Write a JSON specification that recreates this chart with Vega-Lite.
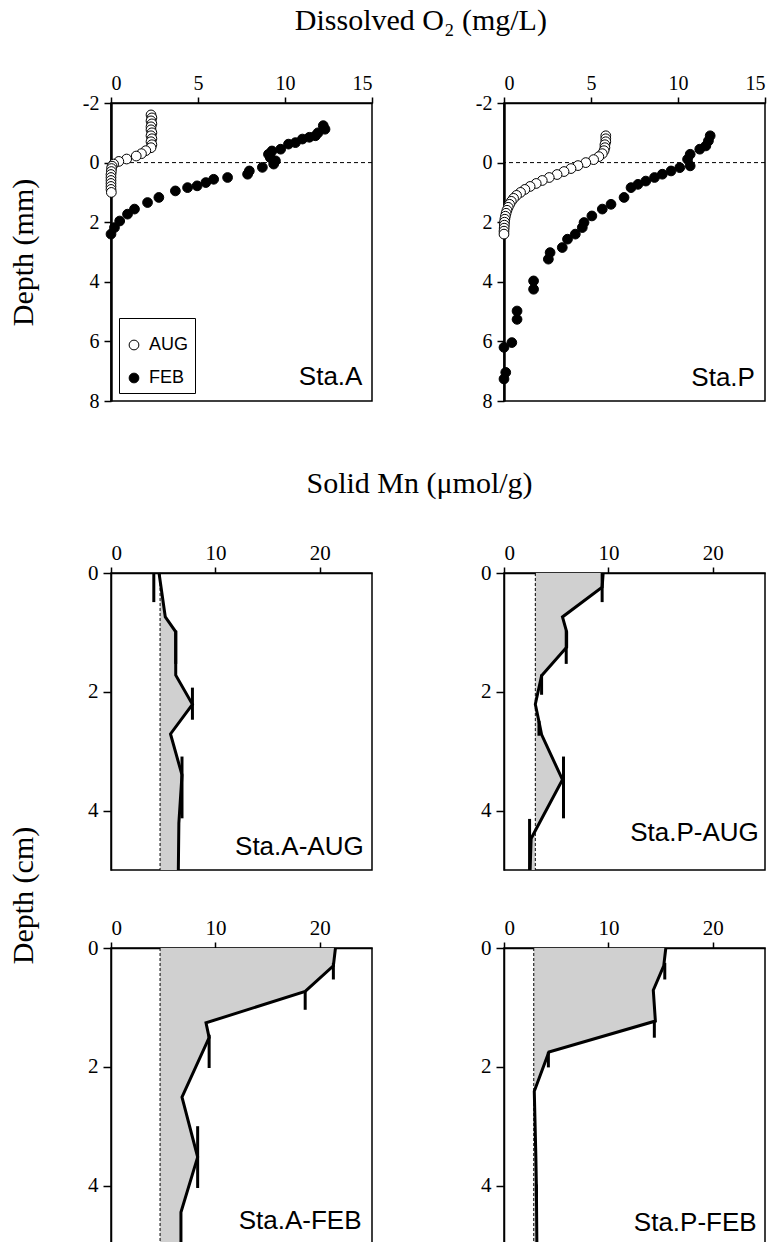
{
"$schema": "https://vega.github.io/schema/vega-lite/v6.json",
"background": "white",
"padding": {"left": 7, "top": 6, "right": 5, "bottom": 0},
"spacing": 57,
"config": {
  "view": {"stroke": "black", "strokeWidth": 1.5},
  "axis": {"grid": false, "domainColor": "black", "tickColor": "black", "labelColor": "black", "labelFont": "Liberation Serif", "titleFont": "Liberation Serif", "titleFontSize": 30, "titleFontWeight": "normal", "titleColor": "black", "domainWidth": 1.5, "tickWidth": 1.5},
  "title": {"font": "Liberation Serif", "fontSize": 30, "fontWeight": "normal", "color": "black", "anchor": "middle"}
},
"datasets": {
  "o2": [
    {"station":"A","month":"AUG","depth":-1.6,"o2":2.3},{"station":"A","month":"AUG","depth":-1.5,"o2":2.35},{"station":"A","month":"AUG","depth":-1.4,"o2":2.3},{"station":"A","month":"AUG","depth":-1.3,"o2":2.35},{"station":"A","month":"AUG","depth":-1.2,"o2":2.3},{"station":"A","month":"AUG","depth":-1.1,"o2":2.3},{"station":"A","month":"AUG","depth":-1.0,"o2":2.35},{"station":"A","month":"AUG","depth":-0.9,"o2":2.3},{"station":"A","month":"AUG","depth":-0.8,"o2":2.35},{"station":"A","month":"AUG","depth":-0.7,"o2":2.3},{"station":"A","month":"AUG","depth":-0.6,"o2":2.35},{"station":"A","month":"AUG","depth":-0.5,"o2":2.3},{"station":"A","month":"AUG","depth":-0.4,"o2":2.0},{"station":"A","month":"AUG","depth":-0.3,"o2":1.75},{"station":"A","month":"AUG","depth":-0.22,"o2":1.45},{"station":"A","month":"AUG","depth":-0.12,"o2":0.9},{"station":"A","month":"AUG","depth":-0.04,"o2":0.45},{"station":"A","month":"AUG","depth":0.05,"o2":0.15},{"station":"A","month":"AUG","depth":0.12,"o2":0.06},{"station":"A","month":"AUG","depth":0.2,"o2":0.03},{"station":"A","month":"AUG","depth":0.3,"o2":0.02},{"station":"A","month":"AUG","depth":0.4,"o2":0.0},{"station":"A","month":"AUG","depth":0.5,"o2":0.0},{"station":"A","month":"AUG","depth":0.6,"o2":0.0},{"station":"A","month":"AUG","depth":0.7,"o2":0.0},{"station":"A","month":"AUG","depth":0.8,"o2":0.0},{"station":"A","month":"AUG","depth":0.9,"o2":0.0},{"station":"A","month":"AUG","depth":1.0,"o2":0.02},
    {"station":"A","month":"FEB","depth":-1.24,"o2":12.2},{"station":"A","month":"FEB","depth":-1.12,"o2":12.3},{"station":"A","month":"FEB","depth":-1.0,"o2":11.9},{"station":"A","month":"FEB","depth":-0.9,"o2":11.75},{"station":"A","month":"FEB","depth":-0.85,"o2":11.4},{"station":"A","month":"FEB","depth":-0.79,"o2":11.0},{"station":"A","month":"FEB","depth":-0.67,"o2":10.6},{"station":"A","month":"FEB","depth":-0.62,"o2":10.2},{"station":"A","month":"FEB","depth":-0.45,"o2":9.75},{"station":"A","month":"FEB","depth":-0.39,"o2":9.25},{"station":"A","month":"FEB","depth":-0.28,"o2":9.05},{"station":"A","month":"FEB","depth":-0.17,"o2":9.15},{"station":"A","month":"FEB","depth":-0.06,"o2":9.45},{"station":"A","month":"FEB","depth":0.05,"o2":9.35},{"station":"A","month":"FEB","depth":0.16,"o2":8.7},{"station":"A","month":"FEB","depth":0.28,"o2":7.95},{"station":"A","month":"FEB","depth":0.39,"o2":7.85},{"station":"A","month":"FEB","depth":0.5,"o2":6.7},{"station":"A","month":"FEB","depth":0.56,"o2":5.9},{"station":"A","month":"FEB","depth":0.67,"o2":5.45},{"station":"A","month":"FEB","depth":0.78,"o2":4.95},{"station":"A","month":"FEB","depth":0.84,"o2":4.4},{"station":"A","month":"FEB","depth":0.95,"o2":3.7},{"station":"A","month":"FEB","depth":1.17,"o2":2.75},{"station":"A","month":"FEB","depth":1.34,"o2":2.1},{"station":"A","month":"FEB","depth":1.56,"o2":1.35},{"station":"A","month":"FEB","depth":1.73,"o2":0.95},{"station":"A","month":"FEB","depth":1.96,"o2":0.5},{"station":"A","month":"FEB","depth":2.18,"o2":0.2},{"station":"A","month":"FEB","depth":2.4,"o2":0.0},
    {"station":"P","month":"AUG","depth":-0.9,"o2":5.85},{"station":"P","month":"AUG","depth":-0.8,"o2":5.85},{"station":"P","month":"AUG","depth":-0.7,"o2":5.85},{"station":"P","month":"AUG","depth":-0.6,"o2":5.8},{"station":"P","month":"AUG","depth":-0.5,"o2":5.8},{"station":"P","month":"AUG","depth":-0.4,"o2":5.75},{"station":"P","month":"AUG","depth":-0.3,"o2":5.65},{"station":"P","month":"AUG","depth":-0.2,"o2":5.45},{"station":"P","month":"AUG","depth":-0.1,"o2":5.15},{"station":"P","month":"AUG","depth":0.0,"o2":4.7},{"station":"P","month":"AUG","depth":0.1,"o2":4.25},{"station":"P","month":"AUG","depth":0.2,"o2":3.85},{"station":"P","month":"AUG","depth":0.3,"o2":3.45},{"station":"P","month":"AUG","depth":0.4,"o2":3.05},{"station":"P","month":"AUG","depth":0.5,"o2":2.6},{"station":"P","month":"AUG","depth":0.6,"o2":2.2},{"station":"P","month":"AUG","depth":0.7,"o2":1.85},{"station":"P","month":"AUG","depth":0.8,"o2":1.5},{"station":"P","month":"AUG","depth":0.9,"o2":1.2},{"station":"P","month":"AUG","depth":1.0,"o2":0.95},{"station":"P","month":"AUG","depth":1.1,"o2":0.72},{"station":"P","month":"AUG","depth":1.2,"o2":0.55},{"station":"P","month":"AUG","depth":1.3,"o2":0.42},{"station":"P","month":"AUG","depth":1.4,"o2":0.32},{"station":"P","month":"AUG","depth":1.5,"o2":0.24},{"station":"P","month":"AUG","depth":1.6,"o2":0.17},{"station":"P","month":"AUG","depth":1.7,"o2":0.12},{"station":"P","month":"AUG","depth":1.8,"o2":0.08},{"station":"P","month":"AUG","depth":1.9,"o2":0.05},{"station":"P","month":"AUG","depth":2.0,"o2":0.03},{"station":"P","month":"AUG","depth":2.1,"o2":0.02},{"station":"P","month":"AUG","depth":2.2,"o2":0.01},{"station":"P","month":"AUG","depth":2.3,"o2":0.0},{"station":"P","month":"AUG","depth":2.4,"o2":0.0},
    {"station":"P","month":"FEB","depth":-0.9,"o2":11.85},{"station":"P","month":"FEB","depth":-0.73,"o2":11.75},{"station":"P","month":"FEB","depth":-0.56,"o2":11.6},{"station":"P","month":"FEB","depth":-0.45,"o2":11.25},{"station":"P","month":"FEB","depth":-0.28,"o2":10.7},{"station":"P","month":"FEB","depth":-0.11,"o2":10.55},{"station":"P","month":"FEB","depth":0.11,"o2":10.7},{"station":"P","month":"FEB","depth":0.17,"o2":10.1},{"station":"P","month":"FEB","depth":0.28,"o2":9.6},{"station":"P","month":"FEB","depth":0.39,"o2":9.1},{"station":"P","month":"FEB","depth":0.5,"o2":8.65},{"station":"P","month":"FEB","depth":0.62,"o2":8.15},{"station":"P","month":"FEB","depth":0.73,"o2":7.7},{"station":"P","month":"FEB","depth":0.84,"o2":7.3},{"station":"P","month":"FEB","depth":1.17,"o2":6.9},{"station":"P","month":"FEB","depth":1.4,"o2":6.15},{"station":"P","month":"FEB","depth":1.56,"o2":5.65},{"station":"P","month":"FEB","depth":1.79,"o2":5.05},{"station":"P","month":"FEB","depth":2.01,"o2":4.6},{"station":"P","month":"FEB","depth":2.18,"o2":4.5},{"station":"P","month":"FEB","depth":2.4,"o2":4.1},{"station":"P","month":"FEB","depth":2.57,"o2":3.65},{"station":"P","month":"FEB","depth":2.85,"o2":3.35},{"station":"P","month":"FEB","depth":3.02,"o2":2.65},{"station":"P","month":"FEB","depth":3.24,"o2":2.55},{"station":"P","month":"FEB","depth":3.97,"o2":1.7},{"station":"P","month":"FEB","depth":4.25,"o2":1.7},{"station":"P","month":"FEB","depth":4.98,"o2":0.75},{"station":"P","month":"FEB","depth":5.26,"o2":0.75},{"station":"P","month":"FEB","depth":6.04,"o2":0.45},{"station":"P","month":"FEB","depth":6.2,"o2":0.0},{"station":"P","month":"FEB","depth":7.04,"o2":0.1},{"station":"P","month":"FEB","depth":7.26,"o2":0.0}
  ],
  "mn": [
    {"panel":"A-AUG","depth":0,"mn":4.6},{"panel":"A-AUG","depth":0.74,"mn":5.2},{"panel":"A-AUG","depth":0.99,"mn":6.2},{"panel":"A-AUG","depth":1.72,"mn":6.2},{"panel":"A-AUG","depth":2.21,"mn":7.8},{"panel":"A-AUG","depth":2.71,"mn":5.7},{"panel":"A-AUG","depth":3.4,"mn":6.8},{"panel":"A-AUG","depth":4.21,"mn":6.5},{"panel":"A-AUG","depth":5.0,"mn":6.45},
    {"panel":"P-AUG","depth":0,"mn":9.5},{"panel":"P-AUG","depth":0.24,"mn":9.4},{"panel":"P-AUG","depth":0.74,"mn":5.6},{"panel":"P-AUG","depth":0.99,"mn":6.0},{"panel":"P-AUG","depth":1.25,"mn":6.0},{"panel":"P-AUG","depth":1.73,"mn":3.6},{"panel":"P-AUG","depth":2.21,"mn":3.0},{"panel":"P-AUG","depth":2.5,"mn":3.35},{"panel":"P-AUG","depth":2.72,"mn":3.6},{"panel":"P-AUG","depth":3.48,"mn":5.6},{"panel":"P-AUG","depth":4.47,"mn":2.6},{"panel":"P-AUG","depth":5.0,"mn":2.5},
    {"panel":"A-FEB","depth":0,"mn":21.5},{"panel":"A-FEB","depth":0.3,"mn":21.3},{"panel":"A-FEB","depth":0.73,"mn":18.6},{"panel":"A-FEB","depth":1.26,"mn":9.1},{"panel":"A-FEB","depth":1.51,"mn":9.4},{"panel":"A-FEB","depth":2.51,"mn":6.8},{"panel":"A-FEB","depth":3.52,"mn":8.3},{"panel":"A-FEB","depth":4.45,"mn":6.7},{"panel":"A-FEB","depth":5.0,"mn":6.7},
    {"panel":"P-FEB","depth":0,"mn":15.5},{"panel":"P-FEB","depth":0.3,"mn":15.3},{"panel":"P-FEB","depth":0.71,"mn":14.3},{"panel":"P-FEB","depth":1.23,"mn":14.5},{"panel":"P-FEB","depth":1.75,"mn":4.3},{"panel":"P-FEB","depth":2.41,"mn":2.9},{"panel":"P-FEB","depth":3.5,"mn":3.05},{"panel":"P-FEB","depth":4.0,"mn":3.1},{"panel":"P-FEB","depth":5.0,"mn":3.15}
  ],
  "bars": [
    {"panel":"A-AUG","mn":4.1,"top":0,"bottom":0.49},{"panel":"A-AUG","mn":6.2,"top":0.97,"bottom":1.53},{"panel":"A-AUG","mn":7.8,"top":1.93,"bottom":2.47},{"panel":"A-AUG","mn":6.8,"top":3.09,"bottom":4.13},
    {"panel":"P-AUG","mn":9.4,"top":0,"bottom":0.49},{"panel":"P-AUG","mn":5.96,"top":0.97,"bottom":1.53},{"panel":"P-AUG","mn":3.6,"top":1.71,"bottom":2.05},{"panel":"P-AUG","mn":3.35,"top":2.49,"bottom":2.74},{"panel":"P-AUG","mn":5.7,"top":3.09,"bottom":4.13},{"panel":"P-AUG","mn":2.45,"top":4.14,"bottom":5.0},
    {"panel":"A-FEB","mn":21.3,"top":0.25,"bottom":0.53},{"panel":"A-FEB","mn":18.6,"top":0.73,"bottom":1.04},{"panel":"A-FEB","mn":9.4,"top":1.46,"bottom":2.02},{"panel":"A-FEB","mn":8.3,"top":3.0,"bottom":4.04},
    {"panel":"P-FEB","mn":15.4,"top":0.25,"bottom":0.53},{"panel":"P-FEB","mn":14.4,"top":1.23,"bottom":1.51},{"panel":"P-FEB","mn":4.25,"top":1.75,"bottom":2.01},{"panel":"P-FEB","mn":3.1,"top":3.98,"bottom":4.2}
  ]
},
"vconcat": [
  {
    "title": {"text": "Dissolved O₂ (mg/L)", "offset": 36, "dx": 34},
    "bounds": "flush",
    "spacing": 132,
    "resolve": {"scale": {"fill": "independent"}, "legend": {"fill": "independent"}},
    "hconcat": [
      {
        "width": 261, "height": 298,
        "layer": [
          {"data": {"values": [{}]}, "mark": {"type": "rule", "strokeDash": [4, 3], "strokeWidth": 1, "color": "black"}, "encoding": {"y": {"datum": 0}}},
          {"data": {"name": "o2"}, "transform": [{"filter": "datum.station === 'A'"}],
           "mark": {"type": "point", "shape": "circle", "size": 95, "stroke": "black", "strokeWidth": 1, "opacity": 1},
           "encoding": {
             "x": {"field": "o2", "type": "quantitative", "scale": {"domain": [0, 15], "nice": false}, "axis": {"orient": "top", "values": [0, 5, 10, 15], "title": null, "labelFont": "Liberation Serif", "labelFontSize": 20, "tickSize": 6, "labelPadding": 4}},
             "y": {"field": "depth", "type": "quantitative", "scale": {"domain": [-2, 8], "reverse": true, "nice": false, "zero": false}, "axis": {"values": [-2, 0, 2, 4, 6, 8], "labelExpr": "'' + datum.value", "title": "Depth (mm)", "titleX": -73, "titleBaseline": "bottom", "tickSize": 7, "labelPadding": 5, "domainWidth": 2.5, "labelFont": "Liberation Serif", "labelFontSize": 20}},
             "fill": {"field": "month", "type": "nominal", "scale": {"domain": ["AUG", "FEB"], "range": ["white", "black"]},
               "legend": {"title": " ", "titleFontSize": 8, "titlePadding": 4, "orient": "bottom-left", "offset": 8, "strokeColor": "black", "padding": 6, "rowPadding": 15, "symbolType": "circle", "symbolSize": 95, "symbolStrokeColor": "black", "symbolStrokeWidth": 1, "labelFont": "Liberation Sans", "labelFontSize": 18, "labelColor": "black", "labelOffset": 6}}
           }},
          {"data": {"values": [{}]}, "mark": {"type": "text", "font": "Liberation Sans", "fontSize": 26, "align": "right", "baseline": "alphabetic", "color": "black"}, "encoding": {"x": {"datum": 14.45}, "y": {"datum": 7.45}, "text": {"value": "Sta.A"}}}
        ]
      },
      {
        "width": 261, "height": 298,
        "layer": [
          {"data": {"values": [{}]}, "mark": {"type": "rule", "strokeDash": [4, 3], "strokeWidth": 1, "color": "black"}, "encoding": {"y": {"datum": 0}}},
          {"data": {"name": "o2"}, "transform": [{"filter": "datum.station === 'P'"}],
           "mark": {"type": "point", "shape": "circle", "size": 95, "stroke": "black", "strokeWidth": 1, "opacity": 1},
           "encoding": {
             "x": {"field": "o2", "type": "quantitative", "scale": {"domain": [0, 15], "nice": false}, "axis": {"orient": "top", "values": [0, 5, 10, 15], "title": null, "labelFont": "Liberation Serif", "labelFontSize": 20, "tickSize": 6, "labelPadding": 4}},
             "y": {"field": "depth", "type": "quantitative", "scale": {"domain": [-2, 8], "reverse": true, "nice": false, "zero": false}, "axis": {"values": [-2, 0, 2, 4, 6, 8], "labelExpr": "'' + datum.value", "title": null, "tickSize": 7, "labelPadding": 5, "domainWidth": 2.5, "labelFont": "Liberation Serif", "labelFontSize": 20}},
             "fill": {"field": "month", "type": "nominal", "scale": {"domain": ["AUG", "FEB"], "range": ["white", "black"]}, "legend": null}
           }},
          {"data": {"values": [{}]}, "mark": {"type": "text", "font": "Liberation Sans", "fontSize": 26, "align": "right", "baseline": "alphabetic", "color": "black"}, "encoding": {"x": {"datum": 14.42}, "y": {"datum": 7.5}, "text": {"value": "Sta.P"}}}
        ]
      }
    ]
  },
  {
    "title": {"text": "Solid Mn (μmol/g)", "offset": 42, "dx": 33},
    "bounds": "flush",
    "columns": 2,
    "spacing": {"row": 78, "column": 132},
    "concat": [
      {
        "width": 261, "height": 297,
        "layer": [
          {"data": {"name": "mn"}, "transform": [{"filter": "datum.panel === 'A-AUG'"}], "mark": {"type": "area", "orient": "horizontal", "color": "#d0d0d0", "opacity": 1},
           "encoding": {
             "y": {"field": "depth", "type": "quantitative", "scale": {"domain": [0, 5], "reverse": true, "nice": false}, "axis": {"values": [0, 2, 4], "labelExpr": "'' + datum.value", "title": "Depth (cm)", "titleX": -73, "titleY": 322, "titleBaseline": "bottom", "tickSize": 8, "labelPadding": 5, "labelFont": "Liberation Serif", "labelFontSize": 21, "domainWidth": 1.5}},
             "x": {"field": "mn", "type": "quantitative", "scale": {"domain": [0, 25], "nice": false}, "axis": {"orient": "top", "values": [0, 10, 20], "title": null, "labelFont": "Liberation Serif", "labelFontSize": 21, "tickSize": 6, "labelPadding": 4}},
             "x2": {"datum": 4.7}
           }},
          {"data": {"values": [{}]}, "mark": {"type": "rule", "strokeDash": [3, 2], "strokeWidth": 1, "color": "black"}, "encoding": {"x": {"datum": 4.7}}},
          {"data": {"name": "mn"}, "transform": [{"filter": "datum.panel === 'A-AUG'"}], "mark": {"type": "line", "color": "black", "strokeWidth": 3},
           "encoding": {"x": {"field": "mn", "type": "quantitative"}, "y": {"field": "depth", "type": "quantitative"}, "order": {"field": "depth", "type": "quantitative"}}},
          {"data": {"name": "bars"}, "transform": [{"filter": "datum.panel === 'A-AUG'"}], "mark": {"type": "rule", "color": "black", "strokeWidth": 3},
           "encoding": {"x": {"field": "mn", "type": "quantitative"}, "y": {"field": "top", "type": "quantitative"}, "y2": {"field": "bottom"}}},
          {"data": {"values": [{}]}, "mark": {"type": "text", "font": "Liberation Sans", "fontSize": 26, "align": "right", "baseline": "alphabetic", "color": "black"}, "encoding": {"x": {"datum": 24.2}, "y": {"datum": 4.74}, "text": {"value": "Sta.A-AUG"}}}
        ]
      },
      {
        "width": 261, "height": 297,
        "layer": [
          {"data": {"name": "mn"}, "transform": [{"filter": "datum.panel === 'P-AUG'"}], "mark": {"type": "area", "orient": "horizontal", "color": "#d0d0d0", "opacity": 1},
           "encoding": {
             "y": {"field": "depth", "type": "quantitative", "scale": {"domain": [0, 5], "reverse": true, "nice": false}, "axis": {"values": [0, 2, 4], "labelExpr": "'' + datum.value", "title": null, "tickSize": 8, "labelPadding": 5, "labelFont": "Liberation Serif", "labelFontSize": 21, "domainWidth": 1.5}},
             "x": {"field": "mn", "type": "quantitative", "scale": {"domain": [0, 25], "nice": false}, "axis": {"orient": "top", "values": [0, 10, 20], "title": null, "labelFont": "Liberation Serif", "labelFontSize": 21, "tickSize": 6, "labelPadding": 4}},
             "x2": {"datum": 3.0}
           }},
          {"data": {"values": [{}]}, "mark": {"type": "rule", "strokeDash": [3, 2], "strokeWidth": 1, "color": "black"}, "encoding": {"x": {"datum": 3.0}}},
          {"data": {"name": "mn"}, "transform": [{"filter": "datum.panel === 'P-AUG'"}], "mark": {"type": "line", "color": "black", "strokeWidth": 3},
           "encoding": {"x": {"field": "mn", "type": "quantitative"}, "y": {"field": "depth", "type": "quantitative"}, "order": {"field": "depth", "type": "quantitative"}}},
          {"data": {"name": "bars"}, "transform": [{"filter": "datum.panel === 'P-AUG'"}], "mark": {"type": "rule", "color": "black", "strokeWidth": 3},
           "encoding": {"x": {"field": "mn", "type": "quantitative"}, "y": {"field": "top", "type": "quantitative"}, "y2": {"field": "bottom"}}},
          {"data": {"values": [{}]}, "mark": {"type": "text", "font": "Liberation Sans", "fontSize": 26, "align": "right", "baseline": "alphabetic", "color": "black"}, "encoding": {"x": {"datum": 24.4}, "y": {"datum": 4.52}, "text": {"value": "Sta.P-AUG"}}}
        ]
      },
      {
        "width": 261, "height": 297,
        "layer": [
          {"data": {"name": "mn"}, "transform": [{"filter": "datum.panel === 'A-FEB'"}], "mark": {"type": "area", "orient": "horizontal", "color": "#d0d0d0", "opacity": 1},
           "encoding": {
             "y": {"field": "depth", "type": "quantitative", "scale": {"domain": [0, 5], "reverse": true, "nice": false}, "axis": {"values": [0, 2, 4], "labelExpr": "'' + datum.value", "title": null, "tickSize": 8, "labelPadding": 5, "labelFont": "Liberation Serif", "labelFontSize": 21, "domainWidth": 1.5}},
             "x": {"field": "mn", "type": "quantitative", "scale": {"domain": [0, 25], "nice": false}, "axis": {"orient": "top", "values": [0, 10, 20], "title": null, "labelFont": "Liberation Serif", "labelFontSize": 21, "tickSize": 6, "labelPadding": 4}},
             "x2": {"datum": 4.7}
           }},
          {"data": {"values": [{}]}, "mark": {"type": "rule", "strokeDash": [3, 2], "strokeWidth": 1, "color": "black"}, "encoding": {"x": {"datum": 4.7}}},
          {"data": {"name": "mn"}, "transform": [{"filter": "datum.panel === 'A-FEB'"}], "mark": {"type": "line", "color": "black", "strokeWidth": 3},
           "encoding": {"x": {"field": "mn", "type": "quantitative"}, "y": {"field": "depth", "type": "quantitative"}, "order": {"field": "depth", "type": "quantitative"}}},
          {"data": {"name": "bars"}, "transform": [{"filter": "datum.panel === 'A-FEB'"}], "mark": {"type": "rule", "color": "black", "strokeWidth": 3},
           "encoding": {"x": {"field": "mn", "type": "quantitative"}, "y": {"field": "top", "type": "quantitative"}, "y2": {"field": "bottom"}}},
          {"data": {"values": [{}]}, "mark": {"type": "text", "font": "Liberation Sans", "fontSize": 26, "align": "right", "baseline": "alphabetic", "color": "black"}, "encoding": {"x": {"datum": 24.0}, "y": {"datum": 4.73}, "text": {"value": "Sta.A-FEB"}}}
        ]
      },
      {
        "width": 261, "height": 297,
        "layer": [
          {"data": {"name": "mn"}, "transform": [{"filter": "datum.panel === 'P-FEB'"}], "mark": {"type": "area", "orient": "horizontal", "color": "#d0d0d0", "opacity": 1},
           "encoding": {
             "y": {"field": "depth", "type": "quantitative", "scale": {"domain": [0, 5], "reverse": true, "nice": false}, "axis": {"values": [0, 2, 4], "labelExpr": "'' + datum.value", "title": null, "tickSize": 8, "labelPadding": 5, "labelFont": "Liberation Serif", "labelFontSize": 21, "domainWidth": 1.5}},
             "x": {"field": "mn", "type": "quantitative", "scale": {"domain": [0, 25], "nice": false}, "axis": {"orient": "top", "values": [0, 10, 20], "title": null, "labelFont": "Liberation Serif", "labelFontSize": 21, "tickSize": 6, "labelPadding": 4}},
             "x2": {"datum": 2.85}
           }},
          {"data": {"values": [{}]}, "mark": {"type": "rule", "strokeDash": [3, 2], "strokeWidth": 1, "color": "black"}, "encoding": {"x": {"datum": 2.85}}},
          {"data": {"name": "mn"}, "transform": [{"filter": "datum.panel === 'P-FEB'"}], "mark": {"type": "line", "color": "black", "strokeWidth": 3},
           "encoding": {"x": {"field": "mn", "type": "quantitative"}, "y": {"field": "depth", "type": "quantitative"}, "order": {"field": "depth", "type": "quantitative"}}},
          {"data": {"name": "bars"}, "transform": [{"filter": "datum.panel === 'P-FEB'"}], "mark": {"type": "rule", "color": "black", "strokeWidth": 3},
           "encoding": {"x": {"field": "mn", "type": "quantitative"}, "y": {"field": "top", "type": "quantitative"}, "y2": {"field": "bottom"}}},
          {"data": {"values": [{}]}, "mark": {"type": "text", "font": "Liberation Sans", "fontSize": 26, "align": "right", "baseline": "alphabetic", "color": "black"}, "encoding": {"x": {"datum": 24.2}, "y": {"datum": 4.76}, "text": {"value": "Sta.P-FEB"}}}
        ]
      }
    ]
  }
]
}
